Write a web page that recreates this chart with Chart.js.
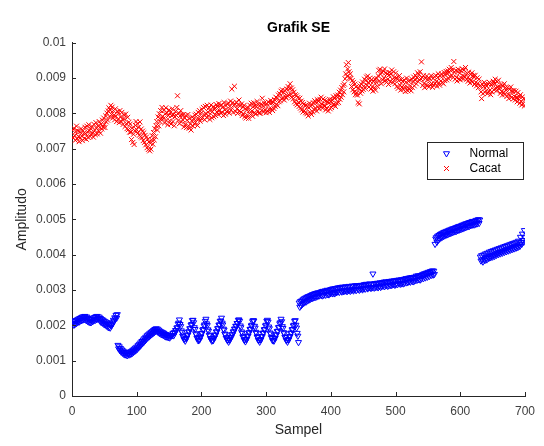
<!DOCTYPE html>
<html><head><meta charset="utf-8">
<script src="https://cdn.jsdelivr.net/npm/chart.js@4/dist/chart.umd.min.js"></script>
<style>html,body{margin:0;padding:0;background:#fff;}canvas{display:block;}</style>
</head><body>
<canvas id="c" width="544" height="446"></canvas>
<script>
const chartTitle = 'Grafik SE';
const xAxisTitle = 'Sampel';
const yAxisTitle = 'Amplitudo';
const seriesNames = ['Normal', 'Cacat'];
const xTickValues = [0, 100, 200, 300, 400, 500, 600, 700];
const xTickLabels = ['0', '100', '200', '300', '400', '500', '600', '700'];
const yTickValues = [0, 0.001, 0.002, 0.003, 0.004, 0.005, 0.006, 0.007, 0.008, 0.009, 0.01];
const yTickLabels = ['0', '0.001', '0.002', '0.003', '0.004', '0.005', '0.006', '0.007', '0.008', '0.009', '0.01'];
// amplitudes stored in units of 0.00001, one value per sample (sample 1..700)
const valueUnit = 0.00001;
const normalValues = [
205,211,201,213,204,214,206,216,209,218,
210,220,213,222,214,224,216,225,217,226,
222,214,224,212,220,210,218,208,216,209,
217,211,221,214,223,215,225,217,226,218,
220,224,213,220,209,217,207,215,204,212,
202,210,199,207,196,205,194,203,193,201,
199,208,205,215,212,222,219,229,221,231,
144,134,140,129,135,125,131,122,128,119,
125,117,124,116,123,115,122,120,117,125,
119,127,121,130,124,133,127,136,130,139,
133,143,137,147,141,151,145,155,149,159,
153,163,157,167,161,171,165,174,168,177,
171,180,174,183,177,186,180,189,183,191,
184,190,181,187,178,184,176,182,174,180,
172,178,170,175,168,174,167,173,166,172,
165,172,170,171,172,178,171,180,179,186,
185,193,194,204,207,
216,203,197,185,180,170,168,161,162,156,
164,164,173,173,182,182,191,191,201,203,214,
215,208,194,189,177,174,165,164,157,159,
159,167,168,177,178,187,189,199,202,212,
218,205,200,188,184,173,171,163,163,156,
158,157,164,165,173,173,182,182,191,192,
201,202,212,213,
221,207,202,190,187,176,174,165,165,158,
159,153,160,159,167,166,174,174,182,182,
190,190,198,198,206,206,215,216,
212,199,194,182,178,168,167,159,160,154,
161,161,170,170,179,180,189,190,199,201,211,214,
213,198,193,181,178,168,166,158,159,153,
160,160,169,169,178,179,188,189,199,201,212,215,
210,196,191,179,176,166,165,157,158,156,
164,164,173,174,183,184,194,195,205,208,218,
211,197,192,180,177,167,166,158,159,153,
160,160,168,169,178,179,188,189,199,201,212,214,
201,193,178,170,152,
264,252,268,256,270,260,273,263,276,266,
278,267,280,270,282,272,283,274,285,276,
287,277,288,279,290,280,291,281,292,283,
293,284,290,294,285,296,284,297,286,295,
298,286,296,300,288,299,287,300,290,302,
292,303,290,304,294,290,305,295,293,306,
296,307,294,305,308,297,295,309,299,296,
308,298,310,300,296,309,299,311,301,297,
310,300,312,301,298,311,302,313,299,310,
313,302,312,300,313,303,314,304,301,314,
305,316,303,313,317,306,304,316,307,318,
308,305,317,307,346,316,306,319,308,318,
309,320,307,319,310,321,308,320,311,322,
312,323,310,321,324,313,322,311,323,325,
314,324,313,326,315,325,316,327,314,326,
317,328,316,326,329,318,327,317,330,319,
329,318,331,320,330,333,321,332,322,334,
324,335,323,333,336,325,335,324,337,327,
336,340,328,338,341,330,340,329,342,332,
341,345,333,343,347,335,346,349,337,348,
351,339,350,353,342,352,355,343,354,345,
430,445,449,436,453,442,455,445,458,448,
460,450,462,452,464,454,465,456,467,457,
468,459,470,460,471,462,473,463,474,465,
475,466,477,467,478,469,480,470,481,472,
482,473,484,474,485,476,487,477,488,479,
489,480,491,481,492,483,493,484,495,485,
494,485,496,487,498,488,497,500,489,499,
394,383,398,386,380,400,388,384,403,391,
386,405,394,390,408,396,392,410,398,394,
412,400,396,414,403,399,416,405,401,418,
407,403,420,409,405,422,411,407,424,413,
409,426,415,411,428,417,413,430,419,415,
432,421,417,434,423,419,436,425,421,439,
428,424,450,435,430,459,441,436,469,449
];
const cacatValues = [
752,731,758,738,724,749,764,728,751,735,
720,748,731,757,736,723,751,744,729,761,
743,727,764,748,732,768,751,735,757,742,
763,744,733,769,753,740,774,758,742,765,
751,777,760,744,770,756,781,761,787,768,
760,793,776,801,781,807,816,790,809,823,
797,818,787,808,795,782,813,792,777,805,
783,801,774,808,790,777,803,784,769,796,
784,763,798,771,757,789,754,775,747,770,
747,726,759,718,741,712,751,766,777,754,
771,745,761,738,776,734,756,731,750,723,
745,718,738,711,733,703,727,698,719,694,
716,699,725,737,713,746,725,757,734,765,
777,753,790,765,799,777,808,785,817,792,
785,809,773,799,816,781,802,768,794,810,
779,802,770,794,813,777,797,765,790,806,
795,817,850,780,801,771,793,808,776,797,
782,796,762,787,769,794,760,781,797,765,
758,786,770,753,779,790,764,785,771,795,
775,798,783,766,803,784,808,778,800,786,
811,788,817,797,782,820,799,789,823,804,
793,816,783,807,824,788,805,819,791,811,
815,794,825,804,820,797,828,808,822,801,
824,803,818,794,831,810,798,822,805,827,
808,829,801,820,835,810,869,830,803,823,
877,826,805,832,813,800,824,838,808,822,
804,827,794,818,799,823,791,813,787,810,
795,817,786,808,823,797,829,807,792,819,
830,803,822,798,819,834,807,826,801,821,
801,826,809,843,822,804,830,810,824,802,
827,807,833,812,803,829,837,813,830,808,
832,814,839,820,846,826,843,822,852,833,
856,836,863,841,867,845,859,838,865,847,
844,869,850,876,853,870,884,855,872,846,
867,841,860,833,853,828,850,824,845,831,
820,843,815,835,810,831,804,826,808,822,
802,824,799,819,793,816,829,803,820,797,
825,804,830,811,836,815,831,807,839,819,
834,813,840,821,846,826,815,841,822,837,
821,810,835,815,832,807,830,840,813,833,
817,838,823,847,826,843,820,850,829,845,
852,831,860,840,866,846,873,853,879,861,
883,898,912,938,905,926,944,918,901,912,
899,876,893,867,888,861,883,853,875,859,
852,831,870,827,878,857,883,864,889,868,
877,897,871,893,903,880,906,888,875,900,
891,869,896,875,863,890,873,897,866,888,
899,877,907,922,892,925,911,884,916,895,
920,900,926,892,915,888,912,897,882,909,
916,891,912,923,897,888,918,901,884,914,
901,876,897,871,893,907,880,866,896,875,
890,868,895,875,862,888,900,874,864,891,
870,894,878,864,897,873,890,903,878,895,
907,884,901,915,890,910,895,918,898,946,
902,879,907,885,873,899,882,906,878,896,
901,876,898,882,907,884,874,899,880,904,
885,908,890,877,902,912,887,880,906,892,
912,888,906,884,916,893,909,919,895,912,
920,898,925,905,922,930,907,923,902,947,
917,897,922,902,892,918,925,898,914,895,
921,900,926,907,898,923,904,930,910,897,
913,891,917,897,886,910,894,915,889,907,
903,882,908,888,878,901,885,873,897,877,
879,861,842,883,856,876,888,860,881,864,
877,856,883,863,888,866,853,880,861,885,
891,867,885,897,872,864,889,874,894,870,
875,857,882,862,852,877,860,884,854,873,
866,848,873,854,842,868,851,875,845,865,
861,841,865,848,838,863,845,833,859,842,
848,829,853,834,824,847,828,842,821,839
];

function toPoints(vals) { return vals.map((v, i) => ({ x: i + 1, y: v * valueUnit })); }

const FONT = "'Liberation Sans', Arial, Helvetica, sans-serif";
const AXIS_COLOR = '#262626';
const TICK_TEXT = '#404040';

const inwardTicks = {
  id: 'inwardTicks',
  afterDraw(chart) {
    const { ctx, chartArea, scales } = chart;
    const x = scales.x, y = scales.y;
    ctx.save();
    ctx.strokeStyle = AXIS_COLOR;
    ctx.lineWidth = 1;
    ctx.beginPath();
    x.ticks.forEach(t => {
      const px = Math.round(x.getPixelForValue(t.value)) + 0.5;
      ctx.moveTo(px, chartArea.bottom);
      ctx.lineTo(px, chartArea.bottom - 4);
    });
    y.ticks.forEach(t => {
      const py = Math.round(y.getPixelForValue(t.value)) + 0.5;
      ctx.moveTo(chartArea.left, py);
      ctx.lineTo(chartArea.left + 4, py);
    });
    ctx.stroke();
    ctx.restore();
  }
};

const boxLegend = {
  id: 'boxLegend',
  afterDraw(chart) {
    const { ctx, chartArea } = chart;
    const w = 96, h = 37;
    const bx = Math.round(chartArea.right - w - 2) + 0.5;
    const by = Math.round(chartArea.top + 99) + 0.5;
    ctx.save();
    ctx.fillStyle = '#ffffff';
    ctx.fillRect(bx, by, w, h);
    ctx.strokeStyle = AXIS_COLOR;
    ctx.lineWidth = 1;
    ctx.strokeRect(bx, by, w, h);
    ctx.font = '12px ' + FONT;
    ctx.textBaseline = 'middle';
    ctx.textAlign = 'left';
    chart.data.datasets.forEach((ds, i) => {
      const cy = by + 11 + i * 15;
      ctx.strokeStyle = ds.borderColor;
      ctx.fillStyle = 'rgba(0,0,0,0)';
      ctx.lineWidth = 1;
      Chart.helpers.drawPoint(ctx, { pointStyle: ds.pointStyle, rotation: ds.rotation, radius: ds.pointRadius, borderWidth: 1 }, bx + 19, cy);
      ctx.fillStyle = '#000000';
      ctx.fillText(ds.label, bx + 42, cy);
    });
    ctx.restore();
  }
};

new Chart(document.getElementById('c'), {
  type: 'scatter',
  data: {
    datasets: [
      {
        label: seriesNames[0],
        data: toPoints(normalValues),
        pointStyle: 'triangle',
        rotation: 180,
        pointRadius: 3.5,
        borderColor: '#0000ff',
        backgroundColor: 'rgba(0,0,0,0)',
        borderWidth: 1,
        showLine: false
      },
      {
        label: seriesNames[1],
        data: toPoints(cacatValues),
        pointStyle: 'crossRot',
        pointRadius: 3.5,
        borderColor: '#ff0000',
        backgroundColor: 'rgba(0,0,0,0)',
        borderWidth: 1,
        showLine: false
      }
    ]
  },
  options: {
    responsive: false,
    animation: false,
    devicePixelRatio: 1,
    events: [],
    layout: { padding: { left: 0, right: 19, top: 0, bottom: 0 } },
    plugins: {
      legend: { display: false },
      tooltip: { enabled: false },
      title: {
        display: true,
        fullSize: false,
        text: chartTitle,
        color: '#000000',
        font: { family: FONT, size: 14, weight: 'bold' },
        padding: { top: 20, bottom: 6 }
      }
    },
    scales: {
      x: {
        type: 'linear',
        min: 0, max: 700,
        afterBuildTicks: s => { s.ticks = xTickValues.map(v => ({ value: v })); },
        afterFit: s => { s.height = 50; },
        grid: { display: false, drawTicks: false },
        border: { display: true, color: AXIS_COLOR, width: 1 },
        ticks: {
          callback: (v, i) => xTickLabels[i],
          color: TICK_TEXT,
          font: { family: FONT, size: 12 },
          padding: 8,
          maxRotation: 0
        },
        title: {
          display: true, text: xAxisTitle, color: AXIS_COLOR,
          font: { family: FONT, size: 14 },
          padding: { top: 0, bottom: 7 }
        }
      },
      y: {
        type: 'linear',
        min: 0, max: 0.01,
        afterBuildTicks: s => { s.ticks = yTickValues.map(v => ({ value: v })); },
        afterFit: s => { s.width = 72; },
        grid: { display: false, drawTicks: false },
        border: { display: true, color: AXIS_COLOR, width: 1 },
        ticks: {
          callback: (v, i) => yTickLabels[i],
          color: TICK_TEXT,
          font: { family: FONT, size: 12 },
          padding: 6
        },
        title: {
          display: true, text: yAxisTitle, color: AXIS_COLOR,
          font: { family: FONT, size: 14 },
          padding: { top: 14, bottom: 0 }
        }
      }
    }
  },
  plugins: [inwardTicks, boxLegend]
});
</script>
</body></html>
